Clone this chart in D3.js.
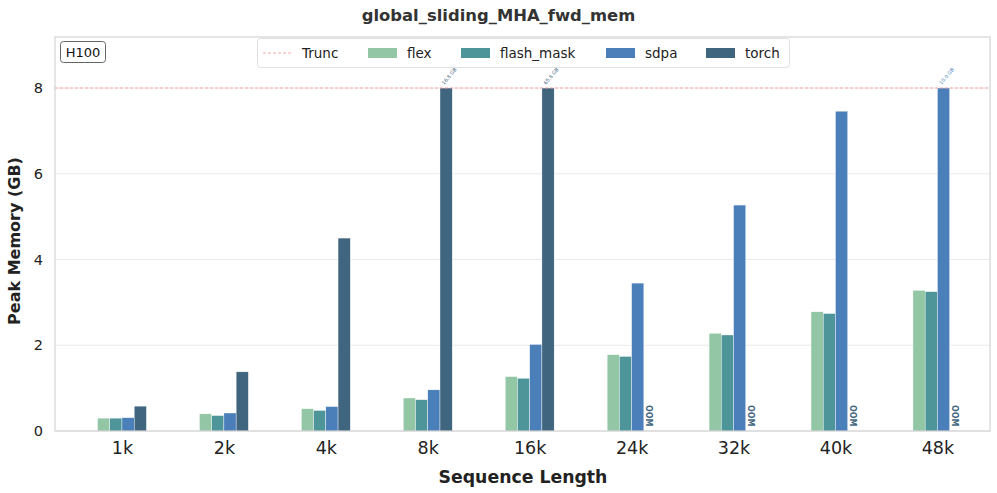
<!DOCTYPE html>
<html><head><meta charset="utf-8">
<script src="https://cdn.jsdelivr.net/npm/d3@7"></script>
<style>body{margin:0;background:#fff;font-family:"DejaVu Sans",sans-serif;}</style>
</head><body><svg id="c" width="997" height="493"></svg>
<script>
const categories = ["1k","2k","4k","8k","16k","24k","32k","40k","48k"];
const seriesNames = ["flex","flash_mask","sdpa","torch"];
const flex = [0.30,0.40,0.52,0.77,1.27,1.78,2.28,2.78,3.28];
const flashMask = [0.30,0.36,0.48,0.73,1.23,1.74,2.24,2.74,3.25];
const sdpa = [0.31,0.42,0.57,0.96,2.02,3.45,5.27,7.46,10.0];
const torch = [0.58,1.38,4.50,16.8,65.8,null,null,null,null];
const yTicks = [0,2,4,6,8];
const truncValue = 8;
const colors = ["#93c6a5","#4d9598","#4a7fba","#40657f"];
const seriesValues = [flex, flashMask, sdpa, torch];

const svg = d3.select("#c");
const L=55, R=990, T=37, B=431;
const x = d3.scaleLinear().domain([-0.657, 8.516]).range([L,R]);
const y = d3.scaleLinear().domain([0, 9.19]).range([B,T]);
const barW = (x(1)-x(0))*0.12;

// grid
svg.append("g").selectAll("line").data(yTicks).join("line")
  .attr("x1",L).attr("x2",R).attr("y1",d=>y(d)).attr("y2",d=>y(d))
  .attr("stroke","#e6e6e6").attr("stroke-width",0.8);

// bars
seriesValues.forEach((vals,si)=>{
  const g = svg.append("g");
  vals.forEach((v,ci)=>{
    const cx = x(ci) + (si-1.5)*barW;
    if(v===null){
      g.append("text").attr("transform",`translate(${cx-3.5},${B-26}) rotate(90)`)
        .attr("font-size",8).attr("font-weight","bold").attr("fill",colors[si])
        .text("OOM");
      return;
    }
    const vv = Math.min(v, truncValue);
    g.append("rect").attr("x",cx-barW/2).attr("width",barW)
      .attr("y",y(vv)).attr("height",y(0)-y(vv))
      .attr("fill",colors[si]).attr("stroke","#ffffff").attr("stroke-width",0.4);
    if(v>truncValue){
      g.append("text").attr("transform",`translate(${cx-2},${y(truncValue)-3}) rotate(-50)`)
        .attr("font-size",5).attr("fill",colors[si]).text(v.toFixed(1)+" GB");
    }
  });
});

// trunc line
svg.append("line").attr("x1",L).attr("x2",R).attr("y1",y(truncValue)).attr("y2",y(truncValue))
  .attr("stroke","#ff8080").attr("stroke-opacity",0.7).attr("stroke-width",1).attr("stroke-dasharray","3,2");

// frame
svg.append("rect").attr("x",L).attr("y",T).attr("width",R-L).attr("height",B-T)
  .attr("fill","none").attr("stroke","#cccccc").attr("stroke-width",1);

// axes
const yAxis = d3.axisLeft(y).tickValues(yTicks).tickSize(0).tickPadding(12);
svg.append("g").attr("transform",`translate(${L},0)`).call(yAxis)
  .call(g=>g.select(".domain").remove())
  .selectAll("text").attr("font-size",14.5).attr("fill","#222").attr("font-family","DejaVu Sans");
const xAxis = d3.axisBottom(x).tickValues(d3.range(categories.length)).tickFormat(i=>categories[i]).tickSize(0).tickPadding(11);
svg.append("g").attr("transform",`translate(0,${B})`).call(xAxis)
  .call(g=>g.select(".domain").remove())
  .selectAll("text").attr("font-size",17.5).attr("fill","#222").attr("font-family","DejaVu Sans");

// labels
svg.append("text").attr("x",498.5).attr("y",21).attr("text-anchor","middle")
  .attr("font-size",16.4).attr("font-weight","bold").attr("fill","#333").text("global_sliding_MHA_fwd_mem");
svg.append("text").attr("x",523).attr("y",483).attr("text-anchor","middle")
  .attr("font-size",17.3).attr("font-weight","bold").attr("fill","#222").text("Sequence Length");
svg.append("text").attr("transform",`translate(20,241) rotate(-90)`).attr("text-anchor","middle")
  .attr("font-size",16).attr("font-weight","bold").attr("fill","#222").text("Peak Memory (GB)");

// H100 box
svg.append("rect").attr("x",60.5).attr("y",41.5).attr("width",45).attr("height",21).attr("rx",3)
  .attr("fill","#fff").attr("stroke","#666");
svg.append("text").attr("x",83).attr("y",57).attr("text-anchor","middle").attr("font-size",13).attr("fill","#111").text("H100");

// legend
const lg = svg.append("g");
lg.append("rect").attr("x",257.5).attr("y",38.5).attr("width",532).attr("height",29).attr("rx",3)
  .attr("fill","#fff").attr("fill-opacity",0.8).attr("stroke","#e0e0e0");
const items = [{name:"Trunc",type:"line",color:"#ff8080"}].concat(seriesNames.map((n,i)=>({name:n,type:"rect",color:colors[i]})));
const itemX = [263, 368, 461, 606, 706];
items.forEach((it,i)=>{
  const ix = itemX[i];
  if(it.type==="line"){
    lg.append("line").attr("x1",ix).attr("x2",ix+28).attr("y1",53).attr("y2",53)
      .attr("stroke",it.color).attr("stroke-opacity",0.7).attr("stroke-dasharray","3,2");
  } else {
    lg.append("rect").attr("x",ix).attr("y",48).attr("width",29).attr("height",10).attr("fill",it.color);
  }
  lg.append("text").attr("x",ix+39).attr("y",58).attr("font-size",13.5).attr("fill","#222").text(it.name);
});
</script></body></html>
